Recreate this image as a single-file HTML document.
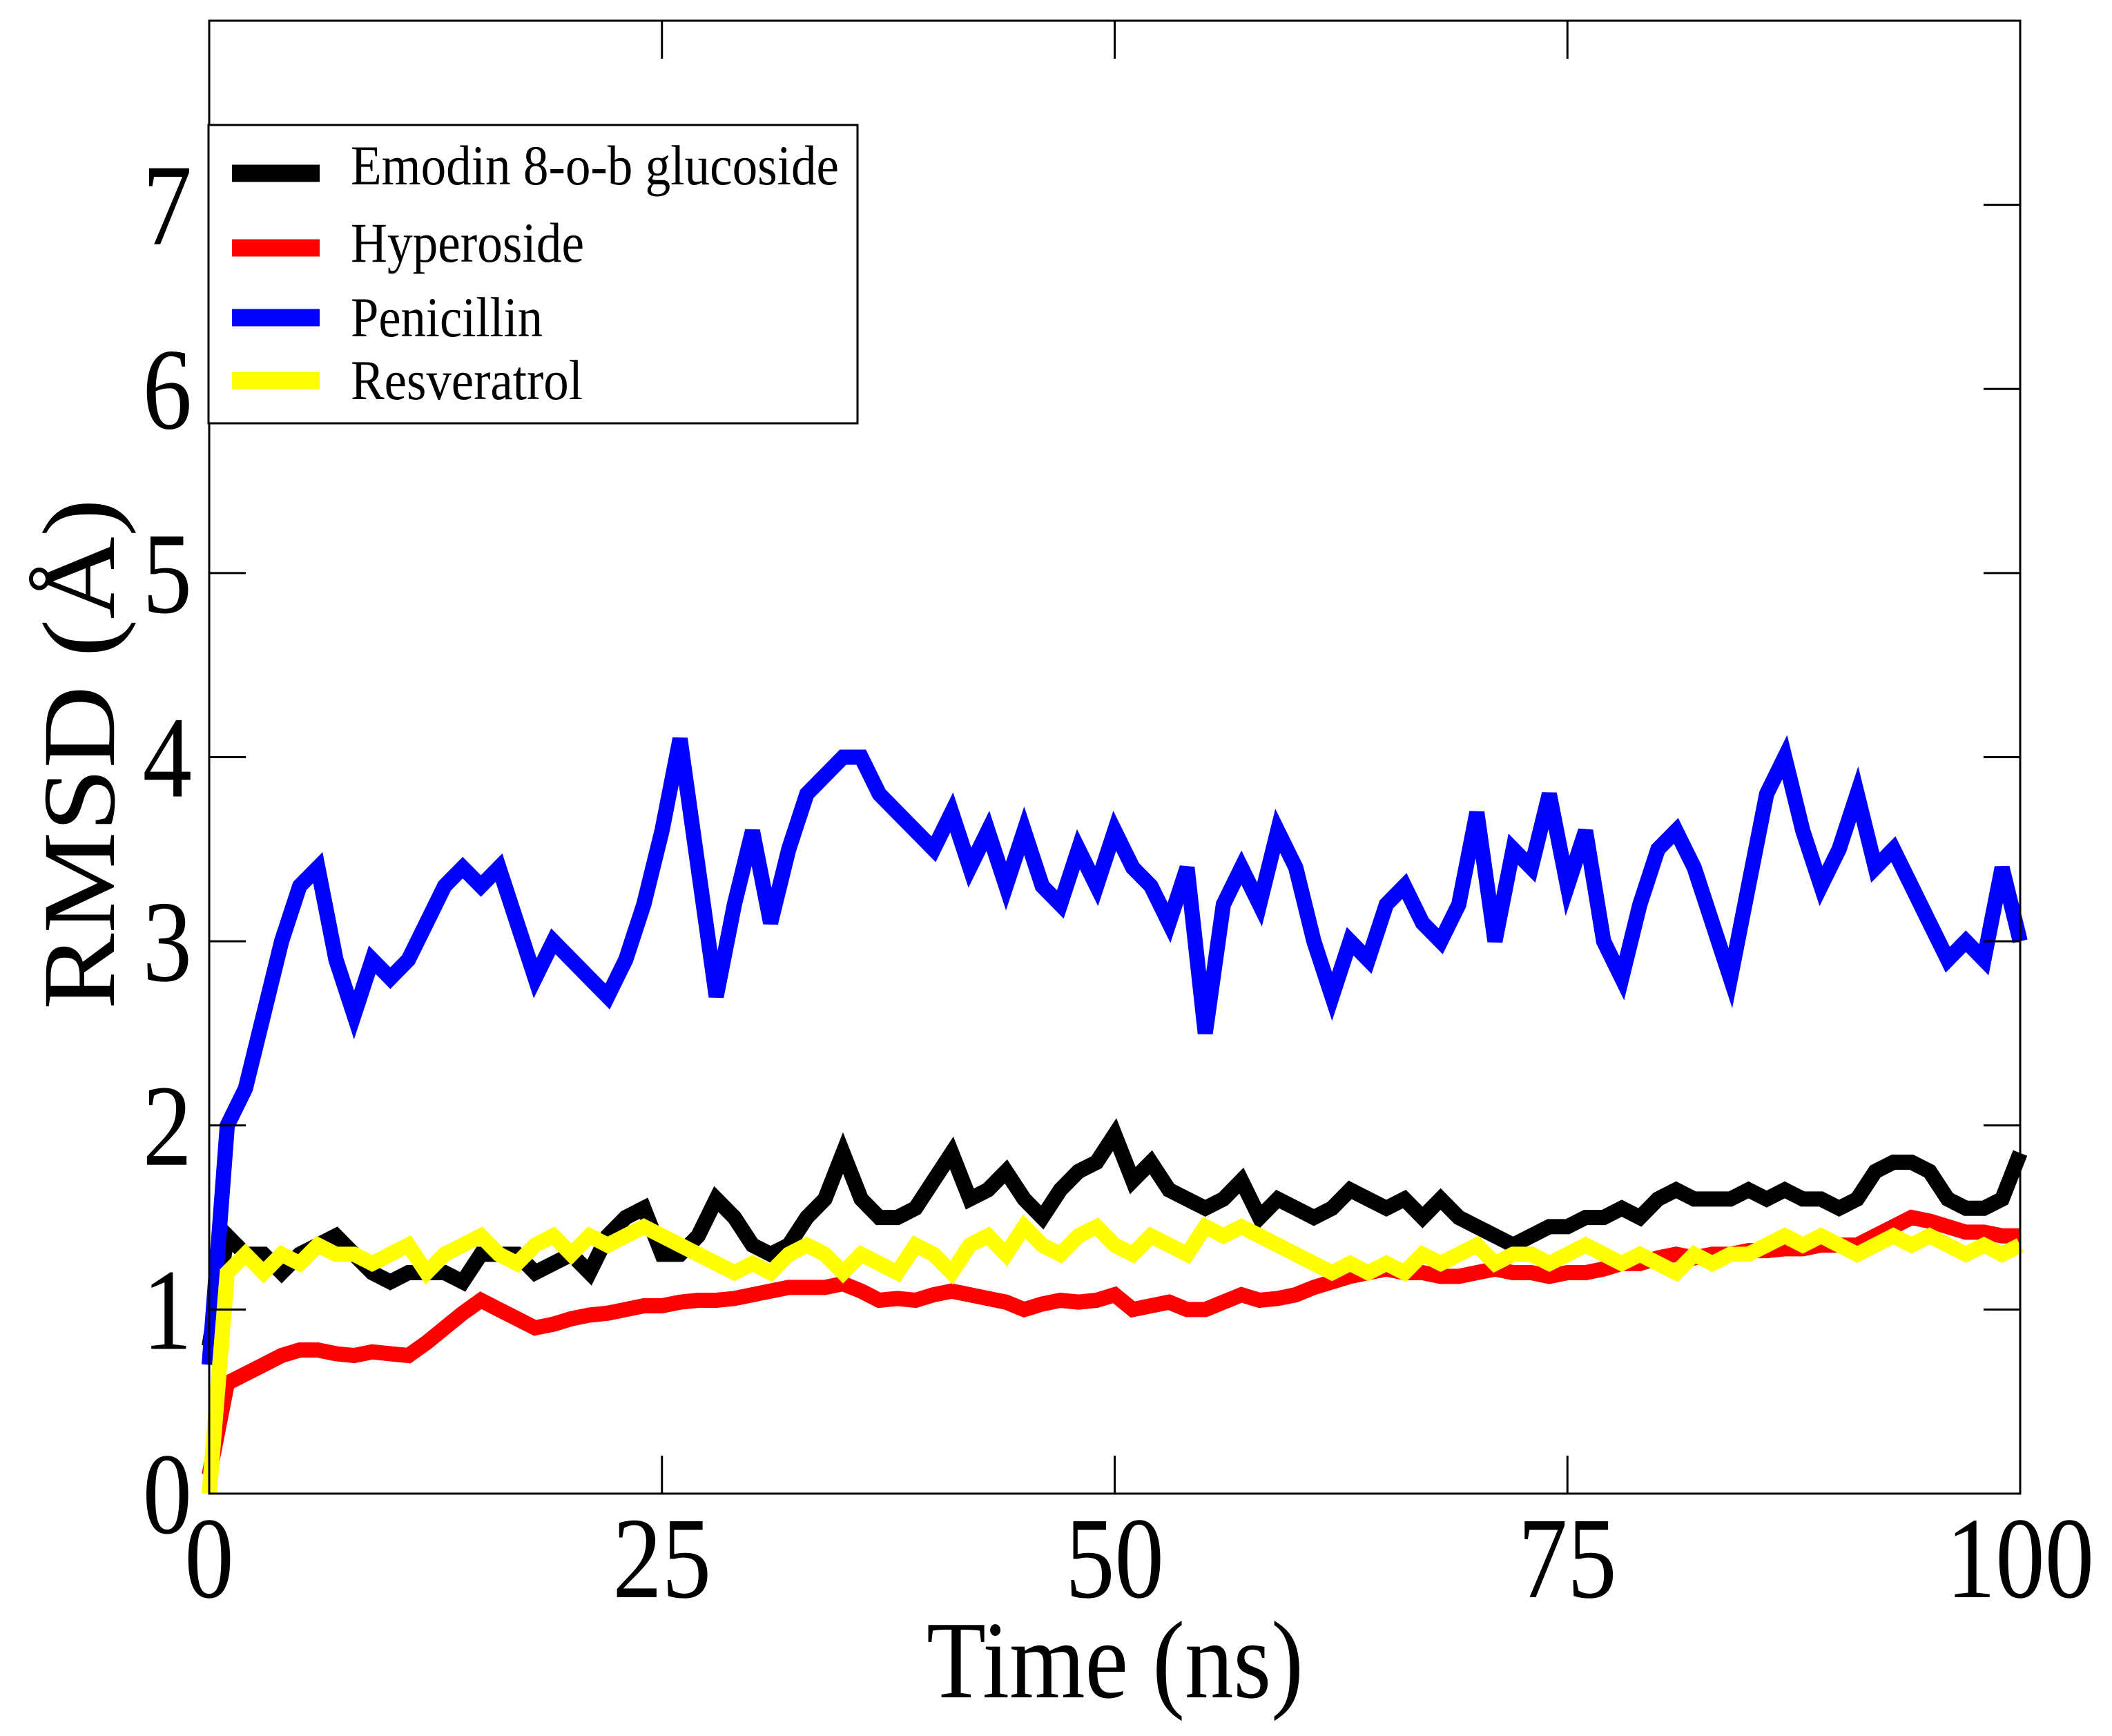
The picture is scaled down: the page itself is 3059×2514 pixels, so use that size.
<!DOCTYPE html>
<html><head><meta charset="utf-8"><style>
html,body{margin:0;padding:0;background:#fff;}
svg{display:block;font-family:"Liberation Serif",serif;}
</style></head><body>
<svg id="chart" width="3059" height="2514" viewBox="0 0 3059 2514" xmlns="http://www.w3.org/2000/svg">
<rect width="3059" height="2514" fill="#fff"/>
<g id="series"></g>
<g id="axes"></g>
<g id="legend">
<rect x="302" y="181" width="940" height="432" fill="#fff" stroke="#000" stroke-width="3"/>
<line x1="336" y1="251" x2="463" y2="251" stroke="#000" stroke-width="25"/>
<line x1="336" y1="359" x2="463" y2="359" stroke="#f00" stroke-width="25"/>
<line x1="336" y1="460" x2="463" y2="460" stroke="#00f" stroke-width="25"/>
<line x1="336" y1="551" x2="463" y2="551" stroke="#ff0" stroke-width="25"/>
<text x="508" y="267" font-size="82" textLength="707" lengthAdjust="spacingAndGlyphs">Emodin 8-o-b glucoside</text>
<text x="508" y="379" font-size="82" textLength="338" lengthAdjust="spacingAndGlyphs">Hyperoside</text>
<text x="508" y="487" font-size="82" textLength="278" lengthAdjust="spacingAndGlyphs">Penicillin</text>
<text x="508" y="578" font-size="82" textLength="336" lengthAdjust="spacingAndGlyphs">Resveratrol</text>
</g>
<text x="1615" y="2458" font-size="160" text-anchor="middle" textLength="546" lengthAdjust="spacingAndGlyphs">Time (ns)</text>
<text transform="translate(165,1092) rotate(-90)" font-size="150" text-anchor="middle" textLength="740" lengthAdjust="spacingAndGlyphs">RMSD (Å)</text>
</svg>
<script>
const xTicks = [0, 25, 50, 75, 100];
const yTicks = [0, 1, 2, 3, 4, 5, 6, 7];
const emodin = [0.8,1.4,1.3,1.3,1.2,1.3,1.35,1.4,1.3,1.2,1.15,1.2,1.2,1.2,1.15,1.3,1.3,1.3,1.2,1.25,1.3,1.2,1.4,1.5,1.55,1.3,1.3,1.4,1.6,1.5,1.35,1.3,1.35,1.5,1.6,1.85,1.6,1.5,1.5,1.55,1.7,1.85,1.6,1.65,1.75,1.6,1.5,1.65,1.75,1.8,1.95,1.7,1.8,1.65,1.6,1.55,1.6,1.7,1.5,1.6,1.55,1.5,1.55,1.65,1.6,1.55,1.6,1.5,1.6,1.5,1.45,1.4,1.35,1.4,1.45,1.45,1.5,1.5,1.55,1.5,1.6,1.65,1.6,1.6,1.6,1.65,1.6,1.65,1.6,1.6,1.55,1.6,1.75,1.8,1.8,1.75,1.6,1.55,1.55,1.6,1.85];
const hyperoside = [0.1,0.6,0.65,0.7,0.75,0.78,0.78,0.76,0.75,0.77,0.76,0.75,0.82,0.9,0.98,1.05,1.0,0.95,0.9,0.92,0.95,0.97,0.98,1.0,1.02,1.02,1.04,1.05,1.05,1.06,1.08,1.1,1.12,1.12,1.12,1.14,1.1,1.05,1.06,1.05,1.08,1.1,1.08,1.06,1.04,1.0,1.03,1.05,1.04,1.05,1.08,1.0,1.02,1.04,1.0,1.0,1.04,1.08,1.05,1.06,1.08,1.12,1.15,1.18,1.2,1.22,1.2,1.2,1.18,1.18,1.2,1.22,1.2,1.2,1.18,1.2,1.2,1.22,1.25,1.25,1.28,1.3,1.28,1.3,1.3,1.32,1.32,1.33,1.33,1.35,1.35,1.35,1.4,1.45,1.5,1.48,1.45,1.42,1.42,1.4,1.4];
const penicillin = [0.7,2.0,2.2,2.6,3.0,3.3,3.4,2.9,2.6,2.9,2.8,2.9,3.1,3.3,3.4,3.3,3.4,3.1,2.8,3.0,2.9,2.8,2.7,2.9,3.2,3.6,4.1,3.4,2.7,3.2,3.6,3.1,3.5,3.8,3.9,4.0,4.0,3.8,3.7,3.6,3.5,3.7,3.4,3.6,3.3,3.6,3.3,3.2,3.5,3.3,3.6,3.4,3.3,3.1,3.4,2.5,3.2,3.4,3.2,3.6,3.4,3.0,2.7,3.0,2.9,3.2,3.3,3.1,3.0,3.2,3.7,3.0,3.5,3.4,3.8,3.3,3.6,3.0,2.8,3.2,3.5,3.6,3.4,3.1,2.8,3.3,3.8,4.0,3.6,3.3,3.5,3.8,3.4,3.5,3.3,3.1,2.9,3.0,2.9,3.4,3.0];
const resveratrol = [0.0,1.2,1.3,1.2,1.3,1.25,1.35,1.3,1.3,1.25,1.3,1.35,1.2,1.3,1.35,1.4,1.3,1.25,1.35,1.4,1.3,1.4,1.35,1.4,1.45,1.4,1.35,1.3,1.25,1.2,1.25,1.2,1.3,1.35,1.3,1.2,1.3,1.25,1.2,1.35,1.3,1.2,1.35,1.4,1.3,1.45,1.35,1.3,1.4,1.45,1.35,1.3,1.4,1.35,1.3,1.45,1.4,1.45,1.4,1.35,1.3,1.25,1.2,1.25,1.2,1.25,1.2,1.3,1.25,1.3,1.35,1.25,1.3,1.3,1.25,1.3,1.35,1.3,1.25,1.3,1.25,1.2,1.3,1.25,1.3,1.3,1.35,1.4,1.35,1.4,1.35,1.3,1.35,1.4,1.35,1.4,1.35,1.3,1.35,1.3,1.35];

const X0 = 303, X1 = 2926, Y0 = 2163, YTOP = 30, YMAX = 8.0;
const NS = 'http://www.w3.org/2000/svg';
function sx(t){ return X0 + (t/100)*(X1-X0); }
function sy(v){ return Y0 - (v/YMAX)*(Y0-YTOP); }

const seriesG = document.getElementById('series');
const seriesList = [['series-emodin', emodin, '#000'], ['series-hyperoside', hyperoside, '#f00'], ['series-penicillin', penicillin, '#00f'], ['series-resveratrol', resveratrol, '#ff0']];
seriesList.forEach(function(s){
  const arr = s[1];
  const n = arr.length;
  let d = '';
  for (let i = 0; i < n; i++) {
    const t = i * 100 / (n - 1);
    d += (i ? 'L' : 'M') + sx(t).toFixed(1) + ' ' + sy(arr[i]).toFixed(1);
  }
  const p = document.createElementNS(NS, 'path');
  p.setAttribute('d', d);
  p.setAttribute('fill', 'none');
  p.setAttribute('stroke', s[2]);
  p.setAttribute('stroke-width', '22');
  p.setAttribute('stroke-linejoin', 'miter');
  
  
  seriesG.appendChild(p);
});

const axesG = document.getElementById('axes');
const frame = document.createElementNS(NS, 'rect');
frame.setAttribute('x', X0); frame.setAttribute('y', YTOP);
frame.setAttribute('width', X1 - X0); frame.setAttribute('height', Y0 - YTOP);
frame.setAttribute('fill', 'none'); frame.setAttribute('stroke', '#000'); frame.setAttribute('stroke-width', '3');


axesG.appendChild(frame);

function addLine(x1,y1,x2,y2,name){
  const l = document.createElementNS(NS, 'line');
  l.setAttribute('x1', x1); l.setAttribute('y1', y1); l.setAttribute('x2', x2); l.setAttribute('y2', y2);
  l.setAttribute('stroke', '#000'); l.setAttribute('stroke-width', '3');
  
  
  axesG.appendChild(l);
}
function addText(x,y,str,name,anchor){
  const tx = document.createElementNS(NS, 'text');
  tx.setAttribute('transform', 'translate(' + x + ',' + y + ') scale(0.85,1)');
  tx.setAttribute('font-size', '168');
  tx.setAttribute('text-anchor', anchor);
  tx.textContent = str;
  
  
  axesG.appendChild(tx);
}
xTicks.forEach(function(t){
  const x = sx(t);
  addLine(x, Y0, x, Y0 - 55, 'x-tick');
  addLine(x, YTOP, x, YTOP + 55, 'x-tick-top');
  addText(x, 2313, String(t), 'x-tick-label', 'middle');
});
yTicks.forEach(function(v){
  const y = sy(v);
  addLine(X0, y, X0 + 53, y, 'y-tick');
  addLine(X1, y, X1 - 53, y, 'y-tick-right');
  addText(278, y + 57, String(v), 'y-tick-label', 'end');
});
</script>
</body></html>
